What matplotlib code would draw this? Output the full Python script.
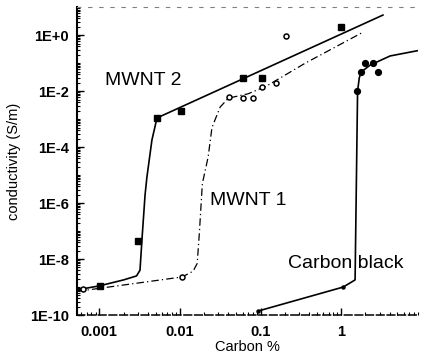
import numpy as np
import matplotlib
matplotlib.use("Agg")
import matplotlib.pyplot as plt
from matplotlib.ticker import LogLocator, NullFormatter

plt.rcParams['font.family'] = ['Liberation Sans', 'DejaVu Sans']

mwnt2_x = [0.00103, 0.00304, 0.0052, 0.0104, 0.061, 0.103, 1.0]
mwnt2_y = [1.1e-9, 4.4e-8, 1.1e-3, 1.9e-3, 0.029, 0.029, 1.9]

mwnt1_x = [0.00062, 0.0107, 0.041, 0.061, 0.081, 0.103, 0.156, 0.207]
mwnt1_y = [8.5e-10, 2.3e-9, 6.1e-3, 5.6e-3, 5.6e-3, 0.014, 0.019, 0.92]

cb_x = [0.094, 1.06, 1.59, 1.77, 1.98, 2.49, 2.87]
cb_y = [1.4e-10, 1.0e-9, 0.01, 0.047, 0.1, 0.1, 0.047]

# hand drawn guide curves
mwnt2_fit_x = [0.00053, 0.001, 0.002, 0.0029, 0.0032, 0.0034, 0.0037, 0.0039, 0.0045, 0.0052, 3.3]
mwnt2_fit_y = [8e-10, 1.1e-9, 1.8e-9, 2.5e-9, 4e-9, 6e-8, 2e-6, 8.5e-6, 1.8e-4, 1.1e-3, 5.2]

mwnt1_fit_x = [0.00053, 0.0107, 0.0146, 0.0164, 0.0175, 0.019, 0.0224, 0.025, 0.0316, 0.04, 0.07, 0.118, 0.36, 1.8]
mwnt1_fit_y = [7e-10, 2.3e-9, 3.7e-9, 7e-9, 1e-7, 5e-6, 4.4e-5, 5e-4, 2.7e-3, 5.6e-3, 8e-3, 0.015, 0.1, 1.2]

cb_fit_x = [0.094, 1.06, 1.49, 1.55, 1.6, 1.68, 1.77, 2.29, 4.05, 9.0]
cb_fit_y = [1.4e-10, 1.0e-9, 1.8e-9, 1e-5, 0.01, 0.03, 0.048, 0.085, 0.18, 0.28]

xticks = [0.001, 0.01, 0.1, 1]
xtick_labels = ['0.001', '0.01', '0.1', '1']
yticks = [1e-10, 1e-8, 1e-6, 1e-4, 1e-2, 1e0]
ytick_labels = ['1E-10', '1E-8', '1E-6', '1E-4', '1E-2', '1E+0']

fig = plt.figure(figsize=(4.21, 3.56), dpi=100)
ax = fig.add_axes([0.183, 0.115, 0.810, 0.865])
ax.set_xscale('log')
ax.set_yscale('log')
ax.set_xlim(5.3e-4, 9.0)
ax.set_ylim(1e-10, 1e1)

ax.plot(mwnt2_fit_x, mwnt2_fit_y, color='black', lw=1.2)
ax.plot(mwnt1_fit_x, mwnt1_fit_y, color='black', lw=0.9, linestyle=(0, (6, 2.5, 1, 2.5)))
ax.plot(cb_fit_x, cb_fit_y, color='black', lw=1.2)

ax.plot(mwnt2_x, mwnt2_y, 's', color='black', ms=5)
ax.plot(mwnt1_x, mwnt1_y, 'o', mfc='white', mec='black', mew=1.1, ms=3.6)
ax.plot(cb_x[:2], cb_y[:2], 'o', color='black', ms=2.2)
ax.plot(cb_x[2:], cb_y[2:], 'o', color='black', ms=4.2)

ax.text(0.082, 0.747, 'MWNT 2', transform=ax.transAxes, fontsize=14, va='baseline')
ax.text(0.39, 0.357, 'MWNT 1', transform=ax.transAxes, fontsize=14, va='baseline')
ax.text(0.619, 0.153, 'Carbon black', transform=ax.transAxes, fontsize=14, va='baseline')

ax.set_xticks(xticks)
ax.set_xticklabels(xtick_labels)
ax.set_yticks(yticks)
ax.set_yticklabels(ytick_labels)
ax.xaxis.set_minor_locator(LogLocator(base=10, subs=np.arange(1, 10)))
ax.yaxis.set_minor_locator(LogLocator(base=10, subs=np.arange(1, 10), numticks=30))
ax.xaxis.set_minor_formatter(NullFormatter())
ax.yaxis.set_minor_formatter(NullFormatter())
ax.tick_params(which='major', direction='in', length=5, width=1, top=False, right=False)
ax.tick_params(which='minor', direction='in', length=2.5, width=0.8, top=False, right=False)
ax.tick_params(axis='y', labelsize=10.5, pad=6)
ax.tick_params(axis='x', labelsize=10.5, pad=7)
for lab in ax.get_xticklabels() + ax.get_yticklabels():
    lab.set_fontweight('bold')

ax.spines['left'].set_linewidth(1.5)
ax.spines['bottom'].set_linewidth(1.1)
ax.spines['bottom'].set_linestyle((0, (5, 2)))
ax.spines['top'].set_linewidth(0.8)
ax.spines['top'].set_linestyle((0, (3, 7)))
ax.spines['top'].set_color('0.5')
ax.spines['right'].set_visible(False)

ax.set_xlabel('Carbon %', fontsize=10.5, labelpad=1)
ax.set_ylabel('conductivity (S/m)', fontsize=10.5, labelpad=6)

fig.savefig('out.png', dpi=100)
